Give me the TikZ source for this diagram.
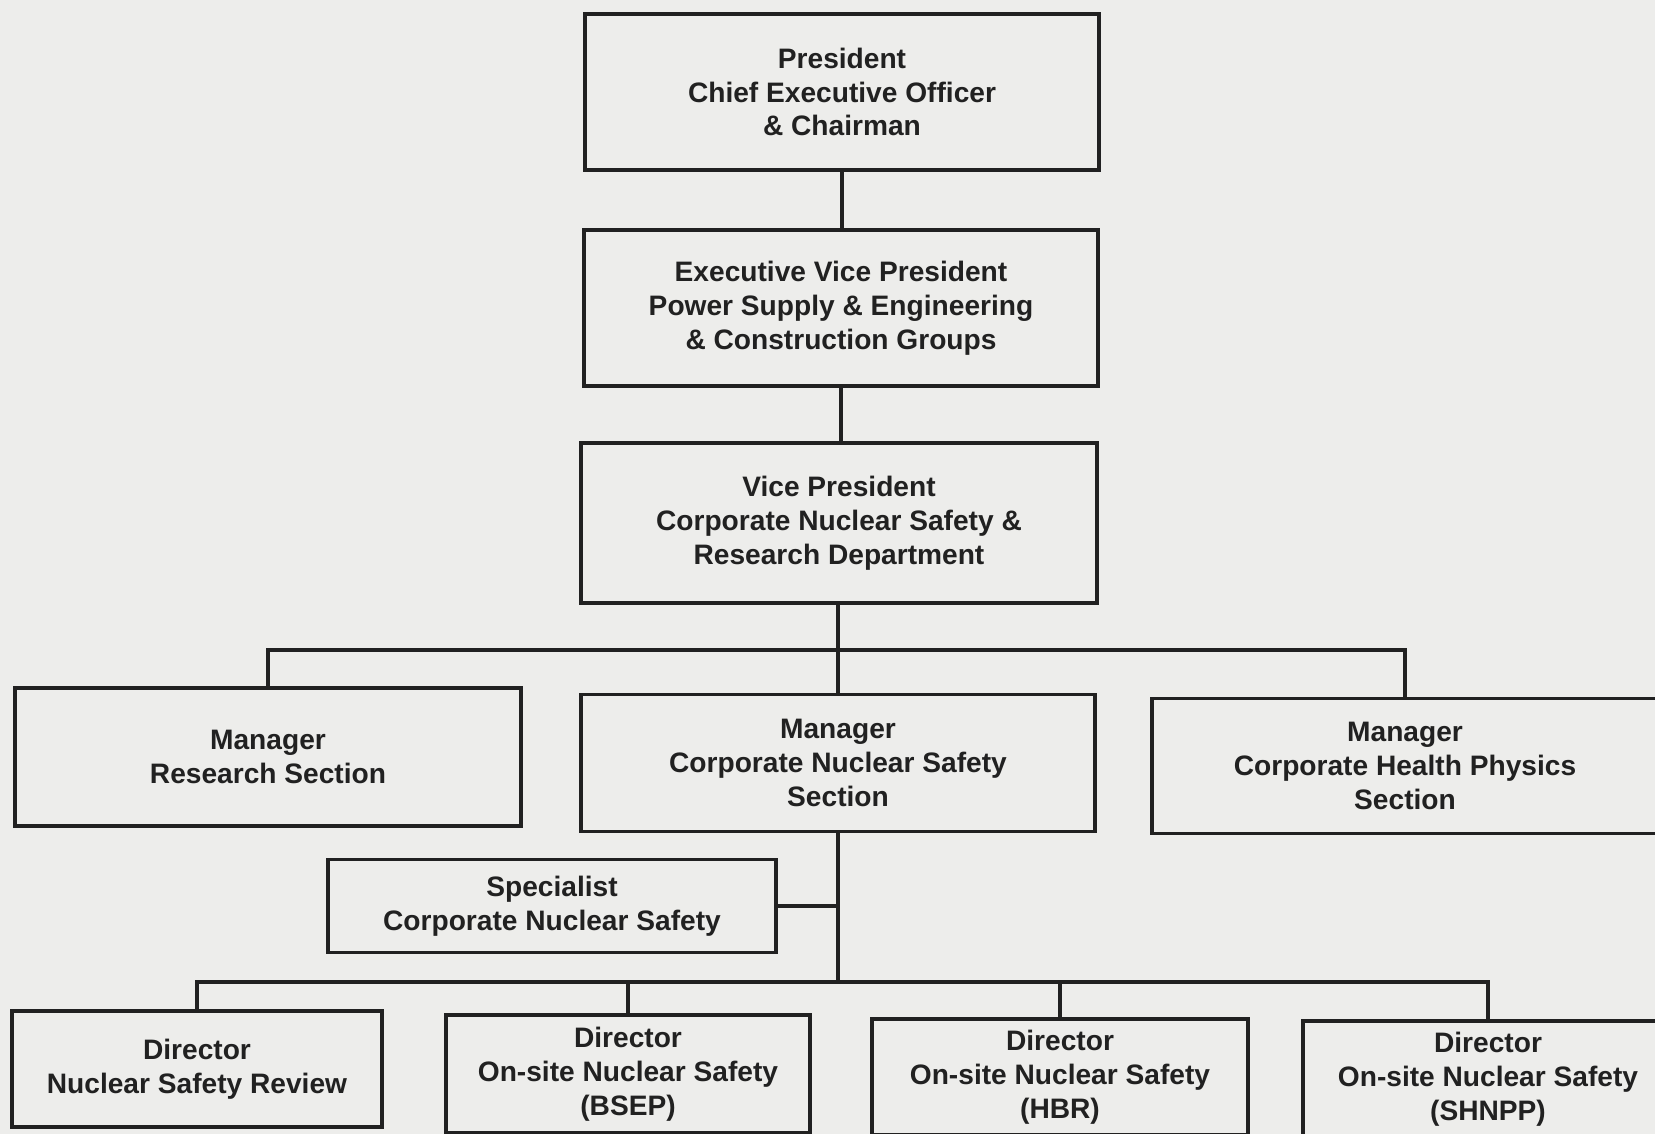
\documentclass[tikz,border=0pt]{standalone}
\usepackage{fontspec}
\setmainfont{Liberation Sans}
\usepackage{xcolor}
\usepackage{tikz}
\usetikzlibrary{positioning, calc}
\definecolor{paper}{rgb}{0.93,0.93,0.92}
\definecolor{ink}{rgb}{0.13,0.13,0.13}

\begin{document}
\begin{tikzpicture}[x=0.01cm, y=-0.01cm,
    post/.style={draw=ink, line width=1.1pt, align=center, inner sep=0pt,
                 font=\fontsize{8}{9.6}\selectfont\bfseries, text=ink},
    link/.style={draw=ink, line width=1.1pt}]
    % Page
    \fill[paper] (0,0) rectangle (1655,1134);
    \useasboundingbox (0,0) rectangle (1655,1134);

    % Top of the chain
    \node[post, minimum width=5.14cm, minimum height=1.56cm] (pres) at (842,92)
        {President\\Chief Executive Officer\\\& Chairman};
    \node[post, minimum width=5.14cm, minimum height=1.56cm] (evp) at (841,308)
        {Executive Vice President\\Power Supply \& Engineering\\\& Construction Groups};
    \node[post, minimum width=5.15cm, minimum height=1.60cm] (vp) at (839,523)
        {Vice President\\Corporate Nuclear Safety \&\\Research Department};

    % Managers
    \node[post, minimum width=5.06cm, minimum height=1.38cm] (res) at (268,757)
        {Manager\\Research Section};
    \node[post, minimum width=5.13cm, minimum height=1.37cm] (cns) at (838,763)
        {Manager\\Corporate Nuclear Safety\\Section};
    \node[post, minimum width=5.06cm, minimum height=1.35cm] (chp) at (1405,766)
        {Manager\\Corporate Health Physics\\Section};

    % Specialist
    \node[post, minimum width=4.47cm, minimum height=0.93cm] (spec) at (552,906)
        {Specialist\\Corporate Nuclear Safety};

    % Directors
    \node[post, minimum width=3.69cm, minimum height=1.16cm] (nsr) at (197,1069)
        {Director\\Nuclear Safety Review};
    \node[post, minimum width=3.64cm, minimum height=1.18cm] (bsep) at (628,1074)
        {Director\\On-site Nuclear Safety\\(BSEP)};
    \node[post, minimum width=3.75cm, minimum height=1.16cm] (hbr) at (1060,1077)
        {Director\\On-site Nuclear Safety\\(HBR)};
    \node[post, minimum width=3.70cm, minimum height=1.16cm] (shnpp) at (1488,1079)
        {Director\\On-site Nuclear Safety\\(SHNPP)};

    % Connectors
    \coordinate (bus1) at (838,650);
    \coordinate (bus2) at (838,982);
    \draw[link] (pres.south) -- (pres.south |- evp.north);
    \draw[link] (evp.south) -- (evp.south |- vp.north);
    \draw[link] (cns.north |- vp.south) -- (cns.north);
    \draw[link] (res.north) |- (bus1) -| (chp.north);
    \draw[link] (cns.south) -- (bus2);
    \draw[link] (spec.east) -- (spec.east -| bus2);
    \draw[link] (nsr.north) |- (bus2) -| (shnpp.north);
    \draw[link] (bsep.north) -- (bsep.north |- bus2);
    \draw[link] (hbr.north) -- (hbr.north |- bus2);
\end{tikzpicture}
\end{document}
